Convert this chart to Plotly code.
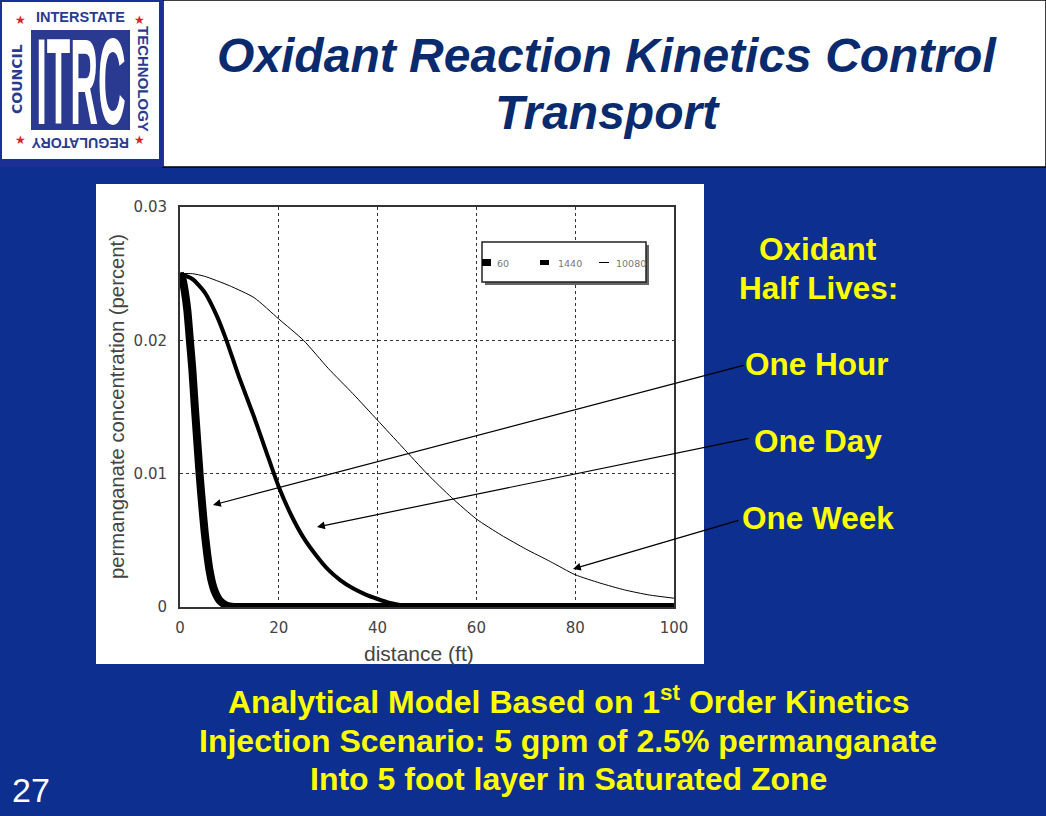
import plotly.graph_objects as go

W, H = 1046, 816
BLUE = "#0d2f8f"
NAVY = "#0a2a6e"
YELLOW = "#ffff00"
LOGO = "#2a3a90"

x_60 = [0, 0.5, 1, 1.5, 2, 2.5, 3, 3.5, 4, 4.5, 5, 5.5, 6, 6.5, 7, 7.5, 8, 9, 10, 11, 15, 20, 40, 60, 80, 100]
y_60 = [0.025, 0.0246, 0.0236, 0.0222, 0.0200, 0.0178, 0.0150, 0.0124, 0.0098, 0.0076, 0.0056, 0.0040, 0.0027, 0.0018, 0.0012, 0.0008, 0.0005, 0.0002, 0.00005, 0, 0, 0, 0, 0, 0, 0]
x_1440 = [0, 2.5, 5, 7.5, 9.4, 12, 15, 17.5, 20, 22.5, 25, 27.5, 30, 32.5, 35, 37.5, 40, 42.5, 45, 50, 60, 80, 100]
y_1440 = [0.025, 0.0246, 0.0236, 0.0218, 0.0200, 0.0172, 0.01425, 0.0116, 0.0090, 0.0069, 0.0052, 0.0039, 0.0028, 0.0020, 0.0014, 0.00095, 0.0006, 0.0003, 0.00012, 0, 0, 0, 0]
x_10080 = [0, 2.5, 5, 10, 15, 20, 25, 30, 35, 40, 45, 50, 55, 60, 65, 70, 75, 80, 85, 90, 95, 100]
y_10080 = [0.025, 0.0250, 0.0248, 0.0241, 0.0232, 0.0216, 0.0200, 0.0179, 0.0160, 0.0140, 0.0120, 0.0100, 0.0082, 0.0066, 0.0054, 0.00435, 0.0034, 0.00242, 0.0018, 0.00128, 0.0009, 0.00066]
x_ticks = [0, 20, 40, 60, 80, 100]
y_ticks = [0, 0.01, 0.02, 0.03]
y_tick_labels = ["0", "0.01", "0.02", "0.03"]
legend_labels = ["60", "1440", "10080"]
half_lives = ["One Hour", "One Day", "One Week"]


def px(x):
    return x / W


def py(y):
    return 1 - y / H


fig = go.Figure()
for xs, ys, name, lw in [(x_60, y_60, "60", 8), (x_1440, y_1440, "1440", 4), (x_10080, y_10080, "10080", 1)]:
    fig.add_trace(go.Scatter(x=xs, y=ys, mode="lines", name=name,
                             line=dict(color="black", width=lw, shape="spline", smoothing=0.6), cliponaxis=False))


def rect(x0, y0, x1, y1, fill, line=None, lw=0, layer="below"):
    return dict(type="rect", xref="paper", yref="paper", x0=px(x0), x1=px(x1), y0=py(y0), y1=py(y1),
                fillcolor=fill, line=dict(color=line or fill, width=lw), layer=layer)


shapes = [
    rect(163, 0, 1046, 167, "white", "black", 1.5),
    rect(0, 0, 163, 167, "#1c2f95"),
    rect(2, 2, 159, 159, "white"),
    rect(31, 30, 130, 130, LOGO),
    rect(96, 184, 704, 664, "white"),
    rect(485, 245, 649, 285, "#666666", layer="above"),
    rect(482, 242, 646, 282, "white", "#222222", 1.5, layer="above"),
    rect(482, 259, 491, 266, "black", layer="above"),
    rect(540, 260, 549, 265, "black", layer="above"),
    rect(599, 262, 609, 263, "black", layer="above"),
]

anns = []


def text(x, y, s, size, color, bold=False, italic=False, angle=0, family="Liberation Sans", anchor="center"):
    if bold:
        s = f"<b>{s}</b>"
    if italic:
        s = f"<i>{s}</i>"
    anns.append(dict(xref="paper", yref="paper", x=px(x), y=py(y), text=s, showarrow=False,
                     xanchor=anchor, yanchor="middle", textangle=angle,
                     font=dict(size=size, color=color, family=family)))


text(607, 56, "Oxidant Reaction Kinetics Control", 48, NAVY, True, True)
text(607, 113, "Transport", 48, NAVY, True, True)

text(818, 249, "Oxidant", 31.5, YELLOW, True)
text(818, 288, "Half Lives:", 31.5, YELLOW, True)
text(817, 364, half_lives[0], 31.5, YELLOW, True)
text(818, 441, half_lives[1], 31.5, YELLOW, True)
text(818, 518, half_lives[2], 31.5, YELLOW, True)

text(568, 700, "Analytical Model Based on 1<sup>st</sup> Order Kinetics", 32, YELLOW, True)
text(568, 741, "Injection Scenario: 5 gpm of 2.5% permanganate", 32, YELLOW, True)
text(568, 779, "Into 5 foot layer in Saturated Zone", 32, YELLOW, True)
text(31, 790, "27", 34, "white")

text(117, 407, "permanganate concentration (percent)", 20.3, "#444444", angle=-90)
text(419, 653, "distance (ft)", 21, "#444444")

text(495, 263, legend_labels[0], 9.5, "#777777", family="DejaVu Sans", anchor="left")
text(556, 263, legend_labels[1], 9.5, "#777777", family="DejaVu Sans", anchor="left")
text(614, 263, legend_labels[2], 9.5, "#777777", family="DejaVu Sans", anchor="left")

text(80, 17, "INTERSTATE", 14.5, LOGO, True)
text(143, 79, "TECHNOLOGY", 15, LOGO, True, angle=90)
text(80, 143, "REGULATORY", 14.2, LOGO, True, angle=180)
text(17, 79, "COUNCIL", 14, LOGO, True, angle=-90, family="DejaVu Sans")
for sx, sy in [(20, 20), (139, 20), (20, 140), (139, 140)]:
    text(sx, sy, "★", 12, "#d8232a", family="DejaVu Sans")
text(81, 82, "ITRC", 60, "white", True)

for (x0, y0, x1, y1) in [(745, 365, 213, 505), (750, 438, 317, 527), (740, 520, 573, 569)]:
    anns.append(dict(xref="paper", yref="paper", axref="pixel", ayref="pixel",
                     x=px(x1), y=py(y1), ax=x0 - x1, ay=y0 - y1, text="", showarrow=True,
                     arrowhead=2, arrowsize=1.3, arrowwidth=1.2, arrowcolor="black"))

fig.update_layout(
    width=W, height=H, autosize=False, showlegend=False,
    margin=dict(l=0, r=0, t=0, b=0, autoexpand=False),
    paper_bgcolor=BLUE, plot_bgcolor="white",
    shapes=shapes, annotations=anns,
    font=dict(family="Liberation Sans", color="#444444"),
    xaxis=dict(domain=[px(180), px(674)], range=[0, 100], tickvals=x_ticks, showgrid=True,
               gridcolor="#333333", griddash="dot", gridwidth=1, zeroline=False, automargin=False,
               showline=True, linecolor="#333333", linewidth=2, mirror=True, layer="below traces",
               ticks="outside", ticklen=6, tickcolor="rgba(0,0,0,0)",
               tickfont=dict(size=15, color="#444444", family="DejaVu Sans")),
    yaxis=dict(domain=[py(607), py(207)], range=[0, 0.03], tickvals=y_ticks, ticktext=y_tick_labels,
               showgrid=True, gridcolor="#333333", griddash="dot", gridwidth=1, zeroline=False, automargin=False,
               showline=True, linecolor="#333333", linewidth=2, mirror=True, layer="below traces",
               ticks="outside", ticklen=8, tickcolor="rgba(0,0,0,0)",
               tickfont=dict(size=15, color="#444444", family="DejaVu Sans")),
)

post = """
document.documentElement.style.background='#0d2f8f';
document.body.style.margin='0';
document.body.style.overflow='hidden';
document.querySelectorAll('.annotation text').forEach(function(t){
  if(t.textContent==='ITRC'){
    var b=t.getBBox(), cx=b.x+b.width/2, cy=b.y+b.height/2;
    t.setAttribute('transform','translate('+cx+','+cy+') scale(0.64,2.05) translate('+(-cx)+','+(-cy)+')');
  }
});
"""
fig.write_html("out.html", post_script=post, config=dict(displayModeBar=False))
